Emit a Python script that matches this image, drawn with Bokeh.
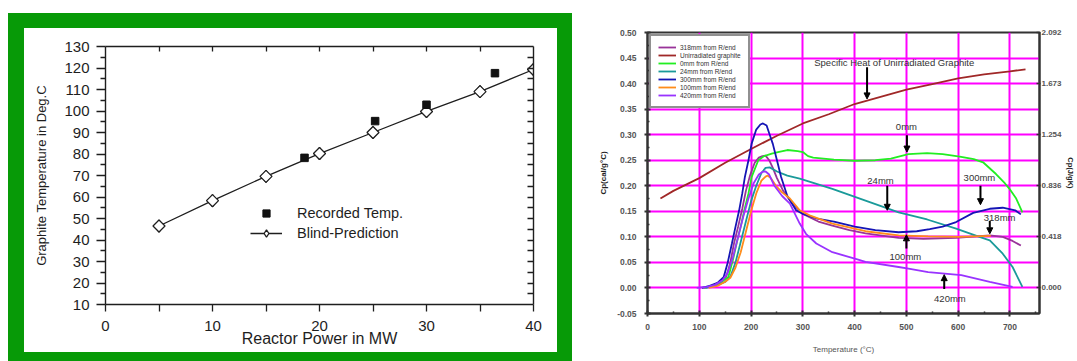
from bokeh.plotting import figure
from bokeh.layouts import row, column
from bokeh.models import (Range1d, FixedTicker, LinearAxis, Legend, LegendItem,
                          Label, Arrow, NormalHead, NumeralTickFormatter, Div, Spacer)
from bokeh.embed import file_html
from bokeh.resources import INLINE

FONT = "Liberation Sans"

# ---------------- left panel data ----------------
power_pred = [5, 10, 15, 20, 25, 30, 35, 40]
temp_pred = [46.5, 58.3, 69.6, 80.2, 90.0, 99.8, 109.0, 119.3]
power_rec = [18.6, 25.2, 30.0, 36.4]
temp_rec = [78.2, 95.3, 102.9, 117.6]
left_x_ticks = [0, 10, 20, 30, 40]
left_x_minor = [5, 15, 25, 35]
left_y_ticks = [10, 20, 30, 40, 50, 60, 70, 80, 90, 100, 110, 120, 130]
left_y_minor = [15, 25, 35, 45, 55, 65, 75, 85, 95, 105, 115, 125]

# ---------------- right panel data ----------------
T_unirr = [25, 50, 100, 150, 200, 250, 300, 350, 400, 450, 500, 550, 600, 650, 700, 730]
cp_unirr = [0.175, 0.19, 0.215, 0.245, 0.272, 0.298, 0.322, 0.34, 0.36, 0.374, 0.388, 0.399, 0.41, 0.418, 0.424, 0.428]

T_318 = [108, 125, 140, 152, 160, 167, 175, 183, 190, 198, 207, 215, 222, 228, 235, 242, 250, 262, 280, 300, 330, 357, 390, 421, 485, 533, 596, 661, 686, 705, 721]
cp_318 = [0.0, 0.004, 0.012, 0.022, 0.05, 0.087, 0.12, 0.155, 0.19, 0.22, 0.245, 0.255, 0.258, 0.259, 0.25, 0.235, 0.215, 0.19, 0.165, 0.145, 0.13, 0.122, 0.113, 0.107, 0.098, 0.096, 0.098, 0.103, 0.1, 0.092, 0.083]

T_0 = [110, 125, 140, 156, 165, 172, 180, 187, 195, 201, 214, 225, 240, 252, 270, 290, 300, 310, 320, 360, 400, 440, 470, 504, 540, 570, 603, 630, 648, 673, 690, 699, 712, 724]
cp_0 = [0.0, 0.003, 0.01, 0.021, 0.055, 0.087, 0.12, 0.152, 0.185, 0.217, 0.25, 0.258, 0.263, 0.266, 0.27, 0.268, 0.266, 0.258, 0.255, 0.251, 0.249, 0.25, 0.253, 0.262, 0.264, 0.262, 0.257, 0.252, 0.246, 0.223, 0.205, 0.194, 0.175, 0.148]

T_24 = [112, 130, 150, 160, 170, 180, 190, 200, 210, 220, 228, 236, 250, 270, 294, 357, 421, 485, 540, 596, 641, 661, 686, 705, 724]
cp_24 = [0.0, 0.004, 0.012, 0.022, 0.05, 0.09, 0.13, 0.17, 0.2, 0.225, 0.235, 0.236, 0.228, 0.22, 0.214, 0.194, 0.171, 0.148, 0.134, 0.116, 0.1, 0.093, 0.067, 0.041, 0.002]

T_300 = [105, 120, 135, 147, 155, 163, 170, 177, 183, 188, 195, 201, 210, 218, 223, 230, 236, 242, 250, 258, 270, 287, 300, 330, 360, 400, 440, 485, 520, 545, 570, 596, 629, 661, 686, 710, 721]
cp_300 = [0.0, 0.004, 0.01, 0.021, 0.05, 0.087, 0.12, 0.152, 0.185, 0.217, 0.25, 0.282, 0.31, 0.32, 0.322, 0.318, 0.3, 0.282, 0.25, 0.217, 0.18, 0.152, 0.145, 0.135, 0.13, 0.12, 0.113, 0.109, 0.111, 0.115, 0.12, 0.129, 0.147, 0.155, 0.157, 0.152, 0.144]

T_100 = [118, 135, 150, 160, 170, 180, 190, 200, 210, 220, 228, 232, 238, 248, 260, 275, 294, 313, 357, 421, 485, 542, 600, 663]
cp_100 = [0.0, 0.004, 0.012, 0.02, 0.04, 0.07, 0.11, 0.15, 0.185, 0.21, 0.218, 0.22, 0.215, 0.2, 0.187, 0.175, 0.152, 0.142, 0.126, 0.111, 0.103, 0.101, 0.1, 0.102]

T_420 = [95, 115, 130, 145, 155, 165, 175, 185, 195, 205, 215, 222, 228, 235, 245, 260, 275, 294, 306, 326, 357, 402, 421, 485, 504, 542, 606, 661, 705]
cp_420 = [0.0, 0.002, 0.006, 0.015, 0.03, 0.06, 0.1, 0.14, 0.175, 0.205, 0.222, 0.227, 0.228, 0.222, 0.2, 0.18, 0.165, 0.126, 0.106, 0.087, 0.07, 0.057, 0.051, 0.041, 0.038, 0.031, 0.025, 0.012, 0.002]

series_names = ["318mm from R/end", "Unirradiated graphite", "0mm from R/end",
                "24mm from R/end", "300mm from R/end", "100mm from R/end", "420mm from R/end"]

right_x_ticks = [0, 100, 200, 300, 400, 500, 600, 700]
right_x_minor = [50, 150, 250, 350, 450, 550, 650, 750]
right_y_ticks = [-0.05, 0.0, 0.05, 0.1, 0.15, 0.2, 0.25, 0.3, 0.35, 0.4, 0.45, 0.5]
right_y_minor = [-0.025, 0.025, 0.075, 0.125, 0.175, 0.225, 0.275, 0.325, 0.375, 0.425, 0.475]
grid_y = [0.0, 0.05, 0.1, 0.15, 0.2, 0.25, 0.3, 0.35, 0.4, 0.45]
grid_x = [100, 200, 300, 400, 500, 600, 700]
right_y2_ticks = [0.000, 0.418, 0.836, 1.254, 1.673, 2.092]

GREEN = "#079A07"

# ================= left figure =================
INK = "#1e1e1e"
p1 = figure(width=533, height=324, x_range=Range1d(0, 40), y_range=Range1d(10, 130),
            output_backend="svg", toolbar_location=None,
            min_border_left=81, min_border_right=24, min_border_top=18, min_border_bottom=48,
            background_fill_color="white", border_fill_color="white",
            outline_line_color=None, margin=0)
p1.grid.visible = False

xa = p1.xaxis[0]
xa.ticker = FixedTicker(ticks=left_x_ticks, minor_ticks=left_x_minor)
ya = p1.yaxis[0]
ya.ticker = FixedTicker(ticks=left_y_ticks, minor_ticks=left_y_minor)
for ax in (xa, ya):
    ax.axis_line_color = INK
    ax.axis_line_width = 1.4
    ax.major_tick_line_color = INK
    ax.minor_tick_line_color = INK
    ax.major_tick_line_width = 1.3
    ax.minor_tick_line_width = 1.3
    ax.major_tick_in = 0
    ax.minor_tick_in = 0
    ax.major_label_text_font = FONT
    ax.major_label_text_font_size = "15px"
    ax.major_label_text_color = INK
    ax.axis_label_text_font = FONT
    ax.axis_label_text_font_style = "normal"
    ax.axis_label_text_color = INK
xa.major_tick_out = 7
xa.minor_tick_out = 7
xa.major_label_standoff = 9
xa.axis_label = "Reactor Power in MW"
xa.axis_label_text_font_size = "16px"
xa.axis_label_standoff = -4
ya.major_tick_out = 9
ya.minor_tick_out = 5
ya.major_label_standoff = 7
ya.axis_label = "Graphite Temperature in Deg.C"
ya.axis_label_text_font_size = "13px"
ya.axis_label_standoff = 12

top_ax = LinearAxis(ticker=FixedTicker(ticks=[], minor_ticks=[5, 10, 15, 20, 25, 30, 35]),
                    minor_tick_in=5, minor_tick_out=0,
                    axis_line_color=INK, axis_line_width=1.4, minor_tick_line_color=INK,
                    minor_tick_line_width=1.3)
p1.add_layout(top_ax, "above")
right_ax = LinearAxis(ticker=FixedTicker(ticks=[], minor_ticks=[15, 20, 25, 30, 35, 40, 45, 50, 55, 60, 65, 70, 75, 80,
                                                               85, 90, 95, 100, 105, 110, 115, 120, 125]),
                      minor_tick_in=6, minor_tick_out=0,
                      axis_line_color=INK, axis_line_width=1.4, minor_tick_line_color=INK,
                      minor_tick_line_width=1.3)
p1.add_layout(right_ax, "right")

pred_line = p1.line(power_pred, temp_pred, line_color=INK, line_width=1.3)
# diamond drawn underneath (hidden by the rotated squares) - it supplies the legend key
key_diamond = p1.scatter(power_pred, temp_pred, marker="diamond", size=12,
                         fill_color="white", line_color=INK, line_width=1.3)
pred_pts = p1.scatter(power_pred, temp_pred, marker="square", angle=0.7854, size=8.5,
                      fill_color="white", line_color=INK, line_width=1.3)
rec_pts = p1.scatter(power_rec, temp_rec, marker="square", size=7.5,
                     fill_color="#111111", line_color="#111111")

leg1 = Legend(items=[LegendItem(label="Recorded Temp.", renderers=[rec_pts]),
                     LegendItem(label="Blind-Prediction", renderers=[pred_line, key_diamond])],
              location=(145, 62), padding=0, margin=0, spacing=2,
              glyph_width=32, glyph_height=18, label_height=18, label_standoff=15,
              label_text_font=FONT, label_text_font_size="14.5px", label_text_color=INK,
              border_line_color=None, background_fill_alpha=0)
p1.add_layout(leg1)

bg = {"background-color": GREEN}
left_panel = column(
    Div(text="", width=564, height=15, styles=bg, margin=0),
    row(Div(text="", width=16, height=324, styles=bg, margin=0), p1,
        Div(text="", width=15, height=324, styles=bg, margin=0), spacing=0, margin=0),
    Div(text="", width=564, height=9, styles=bg, margin=0),
    spacing=0, margin=0)
left_block = column(Spacer(width=572, height=13, margin=0),
                    row(Spacer(width=8, height=348, margin=0), left_panel, spacing=0, margin=0),
                    spacing=0, margin=0)

# ================= right figure =================
p2 = figure(width=505, height=361, x_range=Range1d(0, 757), y_range=Range1d(-0.05, 0.5),
            output_backend="svg", toolbar_location=None,
            min_border_left=75, min_border_right=35, min_border_top=32, min_border_bottom=48,
            background_fill_color="white", border_fill_color="white",
            outline_line_color="#333333", outline_line_width=2, margin=0)
p2.extra_y_ranges = {"j": Range1d(-0.05 * 4.184, 0.5 * 4.184)}

p2.xgrid.ticker = FixedTicker(ticks=grid_x)
p2.ygrid.ticker = FixedTicker(ticks=grid_y)
p2.grid.grid_line_color = "#FF00FF"
p2.grid.grid_line_width = 2
p2.grid.grid_line_alpha = 1

TXT = "#555555"
bx = p2.xaxis[0]
bx.ticker = FixedTicker(ticks=right_x_ticks, minor_ticks=right_x_minor)
by = p2.yaxis[0]
by.ticker = FixedTicker(ticks=right_y_ticks, minor_ticks=right_y_minor)
by.formatter = NumeralTickFormatter(format="0.00")
for ax in (bx, by):
    ax.axis_line_color = "#333333"
    ax.axis_line_width = 2
    ax.major_tick_line_color = "#333333"
    ax.minor_tick_line_color = "#333333"
    ax.major_tick_line_width = 2
    ax.minor_tick_line_width = 1.5
    ax.major_tick_in = 3
    ax.major_tick_out = 3
    ax.minor_tick_in = 2
    ax.minor_tick_out = 0
    ax.major_label_text_font = FONT
    ax.major_label_text_font_size = "8.5px"
    ax.major_label_text_color = TXT
    ax.major_label_text_font_style = "bold"
    ax.axis_label_text_font = FONT
    ax.axis_label_text_font_style = "normal"
    ax.axis_label_text_color = TXT
    ax.axis_label_text_font_size = "8px"
bx.major_label_standoff = 7
bx.axis_label = "Temperature (°C)"
bx.axis_label_standoff = 12
by.major_label_standoff = 8
by.axis_label = "Cp(cal/g°C)"
by.axis_label_text_color = "#222222"
by.axis_label_text_font_style = "bold"
by.axis_label_standoff = 6

r_ax = LinearAxis(y_range_name="j",
                  ticker=FixedTicker(ticks=right_y2_ticks, minor_ticks=[]),
                  formatter=NumeralTickFormatter(format="0.000"),
                  axis_line_color="#333333", axis_line_width=2,
                  major_tick_line_color="#333333", major_tick_line_width=1.5,
                  major_tick_in=3, major_tick_out=1, major_label_standoff=1,
                  major_label_text_font=FONT, major_label_text_font_size="8px",
                  major_label_text_color=TXT, major_label_text_font_style="bold",
                  axis_label="Cp(J/gK)", axis_label_standoff=1,
                  axis_label_text_font=FONT, axis_label_text_font_size="7.5px",
                  axis_label_text_font_style="bold", axis_label_text_color="#222222")
p2.add_layout(r_ax, "right")

colors = ["#993399", "#A02828", "#22EE22", "#1A9A9A", "#1515B5", "#FF8C1A", "#9933FF"]
xs = [T_318, T_unirr, T_0, T_24, T_300, T_100, T_420]
ys = [cp_318, cp_unirr, cp_0, cp_24, cp_300, cp_100, cp_420]
items = []
for name, c, x, y in zip(series_names, colors, xs, ys):
    r = p2.line(x, y, line_color=c, line_width=1.8)
    items.append(LegendItem(label=name, renderers=[r]))

leg2 = Legend(items=items, location="top_left", margin=2, padding=7, spacing=0,
              glyph_width=18, glyph_height=8, label_height=8, label_standoff=4,
              label_text_font=FONT, label_text_font_size="6.5px", label_text_color="#333333",
              border_line_color="#222222", border_line_width=2, background_fill_color="white",
              background_fill_alpha=1)
p2.add_layout(leg2)

ann_font = "9.5px"
def add_label(x, y, txt, align="center"):
    p2.add_layout(Label(x=x, y=y, text=txt, text_font=FONT, text_font_size=ann_font,
                        text_color="#333333", text_align=align, text_baseline="middle"))

def add_arrow(x, y0, y1):
    p2.add_layout(Arrow(x_start=x, y_start=y0, x_end=x, y_end=y1, line_width=2,
                        line_color="black",
                        end=NormalHead(size=6, fill_color="black", line_color="black")))

add_label(322, 0.441, "Specific Heat of Unirradiated Graphite", align="left")
add_arrow(424, 0.432, 0.37)
add_label(500, 0.316, "0mm")
add_arrow(501, 0.299, 0.266)
add_label(450, 0.21, "24mm")
add_arrow(463, 0.2, 0.152)
add_label(641, 0.217, "300mm")
add_arrow(643, 0.2, 0.163)
add_label(680, 0.137, "318mm")
add_arrow(661, 0.131, 0.106)
add_label(498, 0.061, "100mm")
add_arrow(500, 0.077, 0.104)
add_label(584, -0.021, "420mm")
add_arrow(573, -0.002, 0.026)

layout = row(left_block, p2, spacing=0, margin=0)
open("out.html", "w").write(file_html(layout, INLINE))
